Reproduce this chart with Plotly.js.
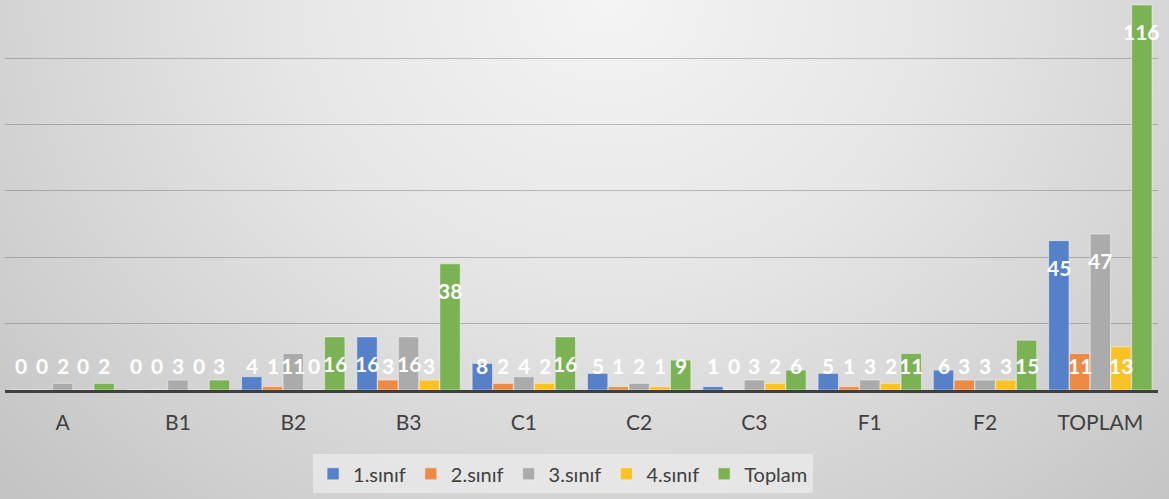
<!DOCTYPE html>
<html>
<head>
<meta charset="utf-8">
<script src="https://cdn.plot.ly/plotly-3.0.1.min.js"></script>
<style>
  html, body { margin: 0; padding: 0; }
  body {
    width: 1169px; height: 499px; overflow: hidden;
    background: radial-gradient(ellipse 70% 140% at 52% 0%, #f4f4f4 0%, #e6e6e6 40%, #d0d0d0 80%, #c4c4c4 100%);
  }
  #chart { width: 1169px; height: 499px; }
</style>
</head>
<body>
<div id="chart"></div>
<script>
const categories = ["A", "B1", "B2", "B3", "C1", "C2", "C3", "F1", "F2", "TOPLAM"];
const seriesNames = ["1.sınıf", "2.sınıf", "3.sınıf", "4.sınıf", "Toplam"];
const sinif1 = [0, 0, 4, 16, 8, 5, 1, 5, 6, 45];
const sinif2 = [0, 0, 1, 3, 2, 1, 0, 1, 3, 11];
const sinif3 = [2, 3, 11, 16, 4, 2, 3, 3, 3, 47];
const sinif4 = [0, 0, 0, 3, 2, 1, 2, 2, 3, 13];
const toplam = [2, 3, 16, 38, 16, 9, 6, 11, 15, 116];

const seriesValues = [sinif1, sinif2, sinif3, sinif4, toplam];
const colors = ["#5681c9", "#ee8a48", "#ababab", "#fbc225", "#7bb254"];

const bargap = 0.1;
const nSeries = seriesValues.length;
const idx = categories.map((_, i) => i);

const traces = seriesValues.map((vals, s) => ({
  type: "bar",
  name: seriesNames[s],
  x: idx,
  y: vals,
  marker: { color: colors[s], line: { color: "rgba(255,255,255,0.45)", width: 1 } },
  hoverinfo: "skip"
}));

const slot = (1 - bargap) / nSeries;
const annotations = [];
seriesValues.forEach((vals, s) => {
  vals.forEach((v, i) => {
    annotations.push({
      x: i + (s - (nSeries - 1) / 2) * slot,
      y: Math.max(v - 8, 7.5),
      xref: "x", yref: "y",
      text: String(v),
      showarrow: false,
      font: { family: "Lato, 'Open Sans', sans-serif", size: 21, color: "#ffffff", weight: "bold" },
      xanchor: "center", yanchor: "middle"
    });
  });
});

const layout = {
  width: 1169, height: 499,
  margin: { l: 5, r: 11, t: 0, b: 109 },
  paper_bgcolor: "rgba(0,0,0,0)",
  plot_bgcolor: "rgba(0,0,0,0)",
  barmode: "group",
  bargap: bargap,
  bargroupgap: 0.02,
  font: { family: "Lato, 'Open Sans', sans-serif", color: "#404040" },
  xaxis: {
    range: [-0.5, categories.length - 0.5],
    tickvals: idx,
    ticktext: categories,
    showgrid: false,
    zeroline: false,
    showline: true,
    linecolor: "#404040",
    linewidth: 3,
    ticks: "",
    ticklabelstandoff: 12,
    tickfont: { family: "Lato, 'Open Sans', sans-serif", size: 21, color: "#404040" },
    fixedrange: true
  },
  yaxis: {
    range: [0, 117.5],
    dtick: 20,
    showticklabels: false,
    showgrid: true,
    gridcolor: "rgba(70,70,70,0.32)",
    gridwidth: 1,
    zeroline: false,
    ticks: "",
    fixedrange: true
  },
  showlegend: true,
  legend: {
    orientation: "h",
    x: 0.484, xanchor: "center",
    y: -0.215, yanchor: "middle",
    bgcolor: "rgba(236,236,236,0.7)",
    font: { family: "Lato, 'Open Sans', sans-serif", size: 20, color: "#404040" },
    itemwidth: 30,
    traceorder: "normal"
  },
  annotations: annotations
};

Plotly.newPlot("chart", traces, layout, { displayModeBar: false, staticPlot: true });
</script>
</body>
</html>
